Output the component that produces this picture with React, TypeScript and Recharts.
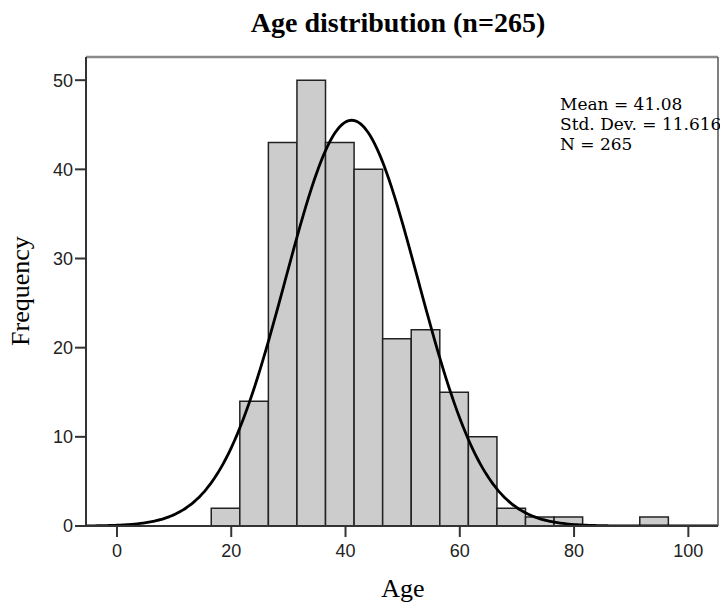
import React from 'react';
import { ComposedChart, XAxis, YAxis, Line, ReferenceArea, ReferenceLine } from 'recharts';

// Histogram bins (lower edge) and counts for patient age
const binStarts = [16.5, 21.5, 26.5, 31.5, 36.5, 41.5, 46.5, 51.5, 56.5, 61.5, 66.5, 71.5, 76.5, 91.5];
const binCounts = [2, 14, 43, 50, 43, 40, 21, 22, 15, 10, 2, 1, 1, 1];
const BIN_WIDTH = 5;

// Summary statistics shown in the stats box; the fitted normal curve uses them
const MEAN = 41.08;
const STD_DEV = 11.616;
const N = 265;

const xTicks = [0, 20, 40, 60, 80, 100];
const yTicks = [0, 10, 20, 30, 40, 50];
const X_MIN = -5.42;
const X_MAX = 105.19;
const Y_MAX = 52.6;

// Normal density scaled to counts per bin
const normalCurve: { x: number; y: number }[] = [];
for (let x = X_MIN; x <= X_MAX + 0.001; x += 0.5) {
  const z = (x - MEAN) / STD_DEV;
  const y = (N * BIN_WIDTH) / (STD_DEV * Math.sqrt(2 * Math.PI)) * Math.exp(-0.5 * z * z);
  normalCurve.push({ x, y });
}

const serif = '"Liberation Serif", "Times New Roman", serif';
const statsFont = '"DejaVu Serif", serif';
const sans = '"Liberation Sans", Arial, sans-serif';

export default function App() {
  return (
    <div style={{ position: 'absolute', left: 0, top: 0, width: 720, height: 608, background: '#fff' }}>
      <ComposedChart
        width={720}
        height={608}
        data={normalCurve}
        margin={{ top: 57, right: 2, left: 0, bottom: 0 }}
      >
        <XAxis
          dataKey="x"
          type="number"
          domain={[X_MIN, X_MAX]}
          ticks={xTicks}
          allowDataOverflow
          height={82}
          tickSize={11}
          tickMargin={7}
          axisLine={{ stroke: '#333', strokeWidth: 2 }}
          tickLine={{ stroke: '#333', strokeWidth: 2 }}
          tick={{ fill: '#222', fontSize: 18, fontFamily: sans }}
        />
        <YAxis
          type="number"
          domain={[0, Y_MAX]}
          ticks={yTicks}
          allowDataOverflow
          width={86}
          tickSize={11}
          tickMargin={2}
          axisLine={{ stroke: '#333', strokeWidth: 2 }}
          tickLine={{ stroke: '#333', strokeWidth: 2 }}
          tick={{ fill: '#222', fontSize: 18, fontFamily: sans }}
        />
        {binStarts.map((lo, i) => (
          <ReferenceArea
            key={lo}
            x1={lo}
            x2={lo + BIN_WIDTH}
            y1={0}
            y2={binCounts[i]}
            fill="#cccccc"
            fillOpacity={1}
            stroke="#222"
            strokeWidth={1.5}
          />
        ))}
        <ReferenceLine y={Y_MAX} stroke="#8a8a8a" strokeWidth={2.5} />
        <ReferenceLine x={X_MAX} stroke="#555" strokeWidth={1.5} />
        <Line
          dataKey="y"
          type="monotone"
          stroke="#000"
          strokeWidth={2.8}
          dot={false}
          isAnimationActive={false}
        />
      </ComposedChart>
      <svg
        width={720}
        height={608}
        style={{ position: 'absolute', left: 0, top: 0, pointerEvents: 'none' }}
      >
        <text x={398} y={32} textAnchor="middle" fontFamily={serif} fontWeight="bold" fontSize={28} fill="#000">
          Age distribution (n=265)
        </text>
        <text x={560} y={110} fontFamily={statsFont} fontSize={17} fill="#000">Mean = 41.08</text>
        <text x={560} y={130} fontFamily={statsFont} fontSize={17} fill="#000">Std. Dev. = 11.616</text>
        <text x={560} y={150} fontFamily={statsFont} fontSize={17} fill="#000">N = 265</text>
        <text
          x={29}
          y={291}
          transform="rotate(-90 29 291)"
          textAnchor="middle"
          fontFamily={serif}
          fontSize={26}
          fill="#000"
        >
          Frequency
        </text>
        <text x={403} y={597} textAnchor="middle" fontFamily={serif} fontSize={26} fill="#000">Age</text>
      </svg>
    </div>
  );
}
